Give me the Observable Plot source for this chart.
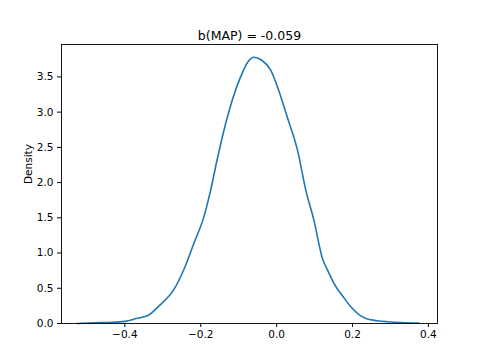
<!DOCTYPE html>
<html>
<head>
<meta charset="utf-8">
<script src="https://cdn.jsdelivr.net/npm/d3@7"></script>
<script src="https://cdn.jsdelivr.net/npm/@observablehq/plot@0.6"></script>
<style>
  html, body { margin: 0; padding: 0; background: #fff; }
</style>
</head>
<body>
<div id="chart"></div>
<script>
const titleText = "b(MAP) = -0.059";
const yLabel = "Density";
const xValues = [-0.526, -0.48, -0.44, -0.40, -0.37, -0.337, -0.31, -0.271, -0.245, -0.218, -0.192, -0.174, -0.157, -0.139, -0.117, -0.095, -0.075, -0.060, -0.040, -0.016, 0.011, 0.028, 0.055, 0.077, 0.098, 0.121, 0.134, 0.151, 0.178, 0.195, 0.235, 0.265, 0.292, 0.33, 0.375];
const densityValues = [0.0, 0.01, 0.015, 0.03, 0.07, 0.12, 0.25, 0.48, 0.76, 1.14, 1.51, 1.89, 2.32, 2.74, 3.17, 3.50, 3.72, 3.78, 3.74, 3.60, 3.22, 2.93, 2.46, 1.89, 1.47, 0.92, 0.76, 0.57, 0.36, 0.24, 0.07, 0.04, 0.025, 0.012, 0.005];
const xTicks = [-0.4, -0.2, 0.0, 0.2, 0.4];
const yTicks = [0.0, 0.5, 1.0, 1.5, 2.0, 2.5, 3.0, 3.5];

const data = xValues.map((x, i) => ({x, y: densityValues[i]}));
const fmt = d3.format(".1f");

const chart = Plot.plot({
  width: 485,
  height: 364,
  marginLeft: 61,
  marginRight: 48,
  marginTop: 44,
  marginBottom: 41,
  style: {fontFamily: "DejaVu Sans", fontSize: "10.5px", color: "#000", background: "#fff"},
  x: {domain: [-0.567, 0.424], ticks: xTicks, tickFormat: fmt, label: null, tickSize: 4, tickPadding: 3},
  y: {domain: [0, 3.96], ticks: yTicks, tickFormat: fmt, label: null, tickSize: 4, tickPadding: 4},
  marks: [
    Plot.line(data, {x: "x", y: "y", stroke: "#1f77b4", strokeWidth: 1.6, curve: "monotone-x"}),
    Plot.frame({stroke: "#000", strokeWidth: 0.9}),
    Plot.text([titleText], {frameAnchor: "top", lineAnchor: "bottom", dy: -5, fontSize: 12.5, fill: "#000"}),
    Plot.text([yLabel], {frameAnchor: "left", dx: -33, rotate: -90, fontSize: 10.5, fill: "#000"})
  ]
});
document.getElementById("chart").appendChild(chart);
</script>
</body>
</html>
